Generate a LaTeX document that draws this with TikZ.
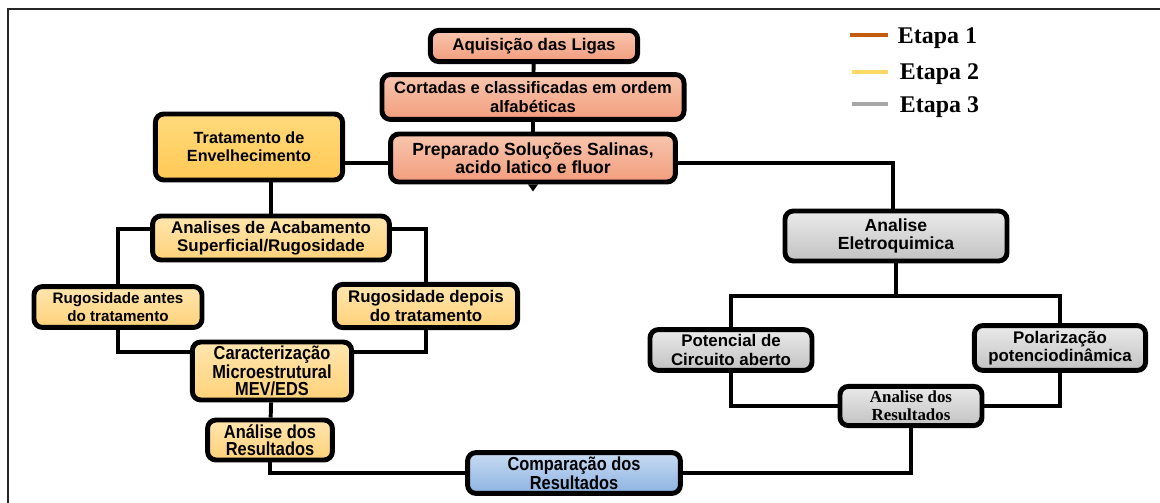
\documentclass[tikz,border=0pt]{standalone}
\usepackage{fontspec}
\setmainfont{Liberation Sans}
\newfontfamily\estreita{Liberation Sans}[FakeStretch=0.87]
\newfontfamily\serifa{Liberation Serif}
\usetikzlibrary{positioning}

\definecolor{salmaoA}{HTML}{F8C6AE}
\definecolor{salmaoB}{HTML}{F29D7D}
\definecolor{ouroA}{HTML}{FFDA7C}
\definecolor{ouroB}{HTML}{FFC955}
\definecolor{amareloA}{HTML}{FFE6AE}
\definecolor{amareloB}{HTML}{FFD27A}
\definecolor{cinzaA}{HTML}{EAEAEA}
\definecolor{cinzaB}{HTML}{C2C2C2}
\definecolor{azulA}{HTML}{C8DBF2}
\definecolor{azulB}{HTML}{8DB3E2}
\definecolor{leg1}{HTML}{C55A11}
\definecolor{leg2}{HTML}{FFD966}
\definecolor{leg3}{HTML}{A6A6A6}

\newcommand{\tam}[1]{\fontsize{#1}{13}\selectfont}

\tikzset{
  caixa/.style={draw,line width=3.5pt,rounded corners=6pt,align=center,
    inner sep=1pt,font=\bfseries\tam{12}},
  etapa1/.style={caixa,top color=salmaoA,bottom color=salmaoB},
  trat/.style={caixa,top color=ouroA,bottom color=ouroB},
  etapa2/.style={caixa,top color=amareloA,bottom color=amareloB},
  etapa3/.style={caixa,top color=cinzaA,bottom color=cinzaB},
  final/.style={caixa,top color=azulA,bottom color=azulB},
  estreito/.style={font=\estreita\bfseries\fontsize{13.4}{11.8}\selectfont},
  liga/.style={line width=2.8pt},
  legenda/.style={anchor=west,font=\serifa\bfseries\fontsize{17}{17}\selectfont},
}

\begin{document}
\begin{tikzpicture}[x=0.025cm,y=-0.025cm]
  \useasboundingbox (0,0) rectangle (1160,503);

  \draw [line width=1.5pt,black!85] (8,503) -- (8,9) -- (1160,9);

  \node [etapa1,minimum width=5.18cm,minimum height=0.78cm] (acq) at (534,46)
  {Aquisição das Ligas};
  \node [etapa1,minimum width=7.55cm,minimum height=1.12cm,
  font=\bfseries\tam{11.8}] (cut) at (533,97)
  {Cortadas e classificadas em ordem\\alfabéticas};
  \node [etapa1,minimum width=7.12cm,minimum height=1.2cm,
  font=\bfseries\tam{12.5}] (prep) at (533,158)
  {Preparado Soluções Salinas,\\acido latico e fluor};

  \node [trat,minimum width=4.68cm,minimum height=1.65cm,
  font=\bfseries\tam{11.5}] (env) at (249,147)
  {Tratamento de\\Envelhecimento};
  \node [etapa2,minimum width=5.92cm,minimum height=1.1cm] (acab) at (271,238)
  {Analises de Acabamento\\Superficial/Rugosidade};
  \node [etapa2,minimum width=4.2cm,minimum height=1.02cm,
  font=\bfseries\tam{10.8}] (rugA) at (118,307)
  {Rugosidade antes\\do tratamento};
  \node [etapa2,minimum width=4.58cm,minimum height=1.08cm] (rugD) at (426,306)
  {Rugosidade depois\\do tratamento};
  \node [etapa2,estreito,minimum width=3.98cm,minimum height=1.45cm] (carac) at (272,371)
  {Caracterização\\Microestrutural\\MEV/EDS};
  \node [etapa2,estreito,minimum width=3.12cm,minimum height=1cm] (resL) at (270,440)
  {Análise dos\\Resultados};

  \node [final,estreito,minimum width=5.32cm,minimum height=1.02cm] (comp) at (574,473)
  {Comparação dos\\Resultados};

  \node [etapa3,minimum width=5.55cm,minimum height=1.25cm,
  font=\bfseries\tam{12.5}] (eletro) at (896,236)
  {Analise\\Eletroquimica};
  \node [etapa3,minimum width=4.05cm,minimum height=1.02cm] (pot) at (731,350)
  {Potencial de\\Circuito aberto};
  \node [etapa3,minimum width=4.28cm,minimum height=1.12cm] (pol) at (1060,348)
  {Polarização\\potenciodinâmica};
  \node [etapa3,minimum width=3.55cm,minimum height=0.98cm,
  font=\serifa\bfseries\tam{12}] (resR) at (911,406)
  {Analise dos\\Resultados};

  \draw [liga] (acq) -- (cut);
  \draw [liga] (cut) -- (prep);
  \draw [liga] (env.east |- 0,163) -- (prep.west |- 0,163);
  \draw [liga] (prep.east |- 0,163) -| (eletro.north -| 893,0);
  \fill (prep.south) ++(-5,0) -- ++(10,0) -- ++(-5,7) -- cycle;

  \draw [liga] (acab.north) -- (acab.north |- env.south);
  \draw [liga] (acab.west |- 0,229) -| (rugA.north);
  \draw [liga] (acab.east |- 0,229) -| (rugD.north);
  \draw [liga] (rugA.south) |- (carac.west |- 0,352);
  \draw [liga] (rugD.south) |- (carac.east |- 0,352);
  \draw [liga] (carac) -- (resL);
  \draw [liga] (resL.south) |- (comp.west);

  \coordinate (split) at (eletro.south |- 0,296);
  \draw [liga] (eletro) -- (split);
  \draw [liga] (pot.north) |- (split) -| (pol.north);
  \draw [liga] (pot.south) |- (resR.west);
  \draw [liga] (pol.south) |- (resR.east);
  \draw [liga] (resR.south) |- (comp.east);

  \coordinate (l1) at (850,35);
  \coordinate (l2) at (852,72);
  \coordinate (l3) at (852,104);
  \draw [line width=3pt,leg1] (l1) -- ++(38,0);
  \draw [line width=3pt,leg2] (l2) -- ++(36,0);
  \draw [line width=3pt,leg3] (l3) -- ++(36,0);
  \node [legenda] (e1) at (893,38) {Etapa 1};
  \node [legenda] (e2) at (895,74) {Etapa 2};
  \node [legenda] (e3) at (895,107) {Etapa 3};
\end{tikzpicture}
\end{document}
